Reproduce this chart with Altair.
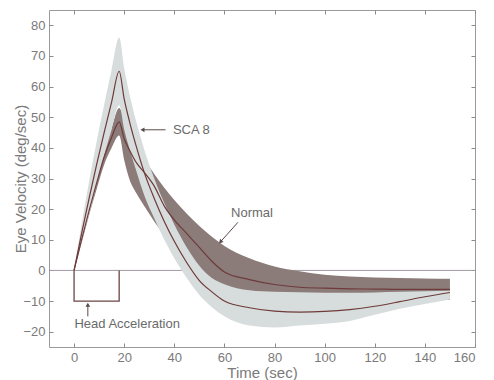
import altair as alt
import pandas as pd

# ---- data ----
t = [0, 3, 6, 9, 12, 15, 18, 20, 22, 25, 28, 32, 36, 40, 45, 50, 55, 60,
     70, 80, 90, 100, 110, 120, 130, 140, 150]

sca_mean = [0, 12, 23.5, 34.5, 45, 55, 65, 56, 49, 40, 32, 23.5, 16, 9.5, 2.5,
            -3.3, -7, -10, -12.2, -13.3, -13.6, -13.4, -12.8, -11.7, -10.2, -8.6, -7.2]
sca_hi = [0, 15, 29, 42, 54, 65.5, 76, 66, 58, 48, 39.5, 30, 22, 15, 7.5,
          1.5, -2.5, -4.5, -6.5, -7, -7.1, -7.3, -7.3, -7.2, -7, -6.8, -6.6]
sca_lo = [0, 9, 18, 28, 37.5, 46, 54, 46, 40, 32, 24.5, 17, 10, 4, -2.5,
          -8, -12, -15, -18, -18.6, -18, -17.4, -16.5, -14.5, -12.5, -11, -9.5]

nor_mean = [0, 10, 19.5, 28.5, 37, 43.5, 48.5, 43, 39.5, 35, 32, 27.5, 21, 16.5, 12,
            7.5, 3, -0.5, -3, -4.6, -5.5, -5.8, -6, -6.1, -6.2, -6.2, -6.2]
nor_hi = [0, 11, 21, 30.5, 39, 46.5, 53, 49.5, 45.5, 41, 36.5, 31.5, 27, 23, 18.5,
          14.5, 11, 8, 4, 1.3, -0.3, -1.4, -2, -2.3, -2.5, -2.6, -2.7]
nor_lo = [0, 9, 18, 26.5, 34.5, 40, 44, 36, 30, 25, 21, 16, 11.5, 7.5, 2.5,
          -1.5, -5, -7, -9.5, -10.5, -11, -11, -10.5, -10, -9.8, -9.7, -9.6]

# head acceleration pulse
ha_t = [0, 0, 18, 18]
ha_v = [0, -10, -10, 0]

x_ticks = [0, 20, 40, 60, 80, 100, 120, 140, 160]
y_ticks = [-20, -10, 0, 10, 20, 30, 40, 50, 60, 70, 80]

# annotations (data units)
ann_label = ["SCA 8", "Normal", "Head Acceleration"]
ann_t = [46.8, 71.0, 21.2]
ann_v = [45.9, 18.8, -17.5]

arrow_t = [36.5, 65.4, 5.5]
arrow_v = [45.9, 15.7, -15.0]
arrow_t2 = [27.3, 58.4, 5.5]
arrow_v2 = [45.9, 9.3, -11.2]
arrow_angle = [270, 224, 0]

# ---- chart ----
df = pd.DataFrame({"t": t, "sca_mean": sca_mean, "sca_hi": sca_hi, "sca_lo": sca_lo,
                   "nor_mean": nor_mean, "nor_hi": nor_hi, "nor_lo": nor_lo})
ha_df = pd.DataFrame({"t": ha_t, "v": ha_v, "o": list(range(len(ha_t)))})
ann_df = pd.DataFrame({"t": ann_t, "v": ann_v, "label": ann_label})
arr_df = pd.DataFrame({"t": arrow_t, "v": arrow_v, "t2": arrow_t2, "v2": arrow_v2,
                       "angle": arrow_angle})
zero_df = pd.DataFrame({"v": [0]})
tick_df = pd.DataFrame({"t": [0], "v": [0]})

xs = alt.Scale(domain=[-10, 160], nice=False, zero=False)
ys = alt.Scale(domain=[-25, 85], nice=False, zero=False)

LABEL = "#7a7a7a"
LINE = "#6e3a3a"
LIGHT = "#d7dddc"
DARK = "#8b7c7a"

x_main = alt.Axis(values=x_ticks, ticks=False, domain=False, grid=False, orient="bottom",
                  labelFontSize=13, labelColor=LABEL, labelPadding=4, labelFont="Liberation Sans",
                  title="Time (sec)", titleFontSize=15, titleColor=LABEL, titleFontWeight="normal",
                  titleFont="Liberation Sans", titleBaseline="middle", titleY=25)
y_main = alt.Axis(values=y_ticks, ticks=False, domain=False, grid=False, orient="left",
                  labelFontSize=13, labelColor=LABEL, labelPadding=4, labelFont="Liberation Sans",
                  title="Eye Velocity (deg/sec)", titleFontSize=15, titleColor=LABEL,
                  titleFontWeight="normal", titleFont="Liberation Sans",
                  titleBaseline="middle", titleX=-29)

def tick_axis(orient, vals):
    return alt.Axis(values=vals, orient=orient, offset=-4, tickSize=4, ticks=True,
                    tickColor="#8a8a8a", tickWidth=1, labels=False, domain=False,
                    grid=False, title=None)

zero = alt.Chart(zero_df).mark_rule(color="#a39aa3", strokeWidth=1).encode(
    y=alt.Y("v:Q", scale=ys, axis=None))

nor_band = alt.Chart(df).mark_area(color=DARK, opacity=1, interpolate="monotone").encode(
    x=alt.X("t:Q", scale=xs, axis=None),
    y=alt.Y("nor_lo:Q", scale=ys, axis=None), y2="nor_hi:Q")

sca_band = alt.Chart(df).mark_area(color=LIGHT, opacity=1, interpolate="monotone").encode(
    x=alt.X("t:Q", scale=xs, axis=x_main),
    y=alt.Y("sca_lo:Q", scale=ys, axis=y_main), y2="sca_hi:Q")

nor_line = alt.Chart(df).mark_line(color=LINE, strokeWidth=1.2, interpolate="monotone").encode(
    x=alt.X("t:Q", scale=xs, axis=None), y=alt.Y("nor_mean:Q", scale=ys, axis=None))
sca_line = alt.Chart(df).mark_line(color=LINE, strokeWidth=1.2, interpolate="monotone").encode(
    x=alt.X("t:Q", scale=xs, axis=None), y=alt.Y("sca_mean:Q", scale=ys, axis=None))

ha = alt.Chart(ha_df).mark_line(color="#6b4545", strokeWidth=1.3).encode(
    x=alt.X("t:Q", scale=xs, axis=None), y=alt.Y("v:Q", scale=ys, axis=None), order="o:O")

texts = alt.Chart(ann_df).mark_text(fontSize=13, color="#6a6a6a", font="Liberation Sans").encode(
    x=alt.X("t:Q", scale=xs, axis=None), y=alt.Y("v:Q", scale=ys, axis=None), text="label:N")

arrows = alt.Chart(arr_df).mark_rule(color="#5a4a4a", strokeWidth=1).encode(
    x=alt.X("t:Q", scale=xs, axis=None), y=alt.Y("v:Q", scale=ys, axis=None),
    x2="t2:Q", y2="v2:Q")
heads = alt.Chart(arr_df).mark_point(shape="triangle-up", filled=True, size=22,
                                     color="#5a4a4a", opacity=1).encode(
    x=alt.X("t2:Q", scale=xs, axis=None), y=alt.Y("v2:Q", scale=ys, axis=None),
    angle=alt.Angle("angle:Q", scale=None))

ticks_bl = alt.Chart(tick_df).mark_point(opacity=0).encode(
    x=alt.X("t:Q", scale=xs, axis=tick_axis("bottom", x_ticks)),
    y=alt.Y("v:Q", scale=ys, axis=tick_axis("left", y_ticks)))
ticks_tr = alt.Chart(tick_df).mark_point(opacity=0).encode(
    x=alt.X("t:Q", scale=xs, axis=tick_axis("top", x_ticks)),
    y=alt.Y("v:Q", scale=ys, axis=tick_axis("right", y_ticks)))

chart = alt.layer(zero, nor_band, sca_band, nor_line, sca_line, ha, arrows, heads, texts,
                  ticks_bl, ticks_tr).resolve_axis(x="independent", y="independent").properties(
    width=426, height=337,
    autosize=alt.AutoSizeParams(type="none"),
    padding={"left": 41, "top": 2, "right": 11, "bottom": 34},
    background="white",
).configure_view(stroke="#9a9a9a", strokeWidth=1)

chart.save("out.html", embed_options={"renderer": "svg", "actions": False})
